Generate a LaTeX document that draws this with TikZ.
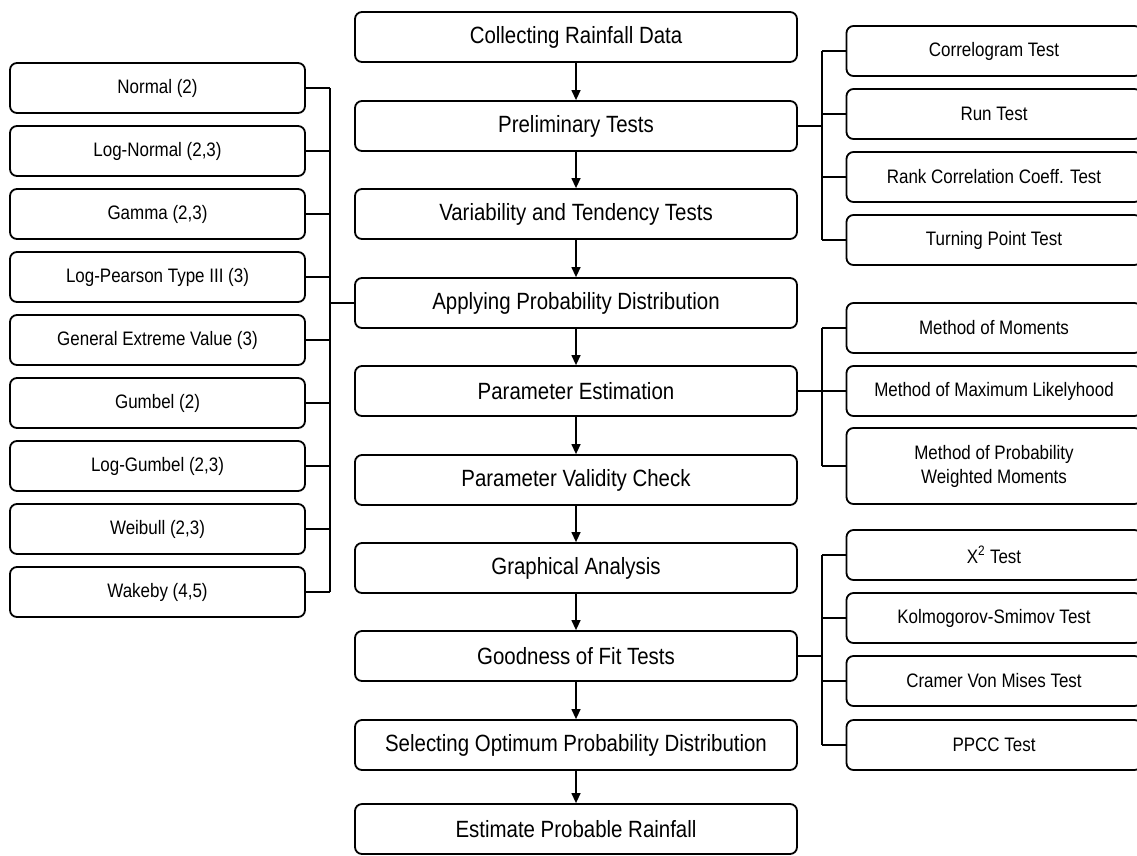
\documentclass[tikz,border=0pt]{standalone}
\usepackage{fontspec}
\setmainfont{Liberation Sans}[FakeStretch=0.87]
\usepackage{tikz}
\usetikzlibrary{arrows.meta, positioning, calc}
\tikzset{
    stage/.style={rectangle, rounded corners=7pt, draw=black, line width=1.8pt, fill=white, align=center, minimum width=442pt, minimum height=50pt, inner sep=0pt, font=\fontsize{23.5}{27}\selectfont},
    option/.style={rectangle, rounded corners=7pt, draw=black, line width=1.8pt, fill=white, align=center, minimum width=295pt, minimum height=50pt, inner sep=0pt, font=\fontsize{19.5}{24}\selectfont},
    link/.style={line width=1.3pt},
    arrow/.style={-{Triangle[length=10pt, width=9pt]}, line width=1.3pt}
}

\begin{document}
\begin{tikzpicture}[x=1pt, y=-1pt]
    \useasboundingbox (0,0) rectangle (1137,855);
    \clip (0,0) rectangle (1137,855);

    % Main procedure
    \node[stage] (collect)  at (576,37)  {Collecting Rainfall Data};
    \node[stage] (prelim)   at (576,126) {Preliminary Tests};
    \node[stage] (vari)     at (576,214) {Variability and Tendency Tests};
    \node[stage] (apply)    at (576,303) {Applying Probability Distribution};
    \node[stage] (estim)    at (576,391) {Parameter Estimation};
    \node[stage] (valid)    at (576,480) {Parameter Validity Check};
    \node[stage] (graph)    at (576,568) {Graphical Analysis};
    \node[stage] (gof)      at (576,656) {Goodness of Fit Tests};
    \node[stage] (select)   at (576,745) {Selecting Optimum Probability Distribution};
    \node[stage] (rainfall) at (576,829) {Estimate Probable Rainfall};

    \draw[arrow] (collect) -- (prelim);
    \draw[arrow] (prelim) -- (vari);
    \draw[arrow] (vari) -- (apply);
    \draw[arrow] (apply) -- (estim);
    \draw[arrow] (estim) -- (valid);
    \draw[arrow] (valid) -- (graph);
    \draw[arrow] (graph) -- (gof);
    \draw[arrow] (gof) -- (select);
    \draw[arrow] (select) -- (rainfall);

    % Candidate distributions
    \coordinate (lbus) at (330,0);
    \foreach \i/\txt in {1/{Normal (2)}, 2/{Log-Normal (2,3)}, 3/{Gamma (2,3)},
        4/{Log-Pearson Type III (3)}, 5/{General Extreme Value (3)}, 6/{Gumbel (2)},
        7/{Log-Gumbel (2,3)}, 8/{Weibull (2,3)}, 9/{Wakeby (4,5)}} {
        \node[option] (dist\i) at (157.5,{88+63*(\i-1)}) {\txt};
        \draw[link] (dist\i.east) -- (dist\i.east -| lbus);
    }
    \draw[link] (dist1.east -| lbus) -- (dist9.east -| lbus);
    \draw[link] (apply.west) -- (apply.west -| lbus);

    % Preliminary tests
    \coordinate (rbus) at (822,0);
    \node[option] (corr) at (994,51)  {Correlogram Test};
    \node[option] (run)  at (994,114) {Run Test};
    \node[option] (rank) at (994,177) {Rank Correlation Coeff. Test};
    \node[option] (turn) at (994,240) {Turning Point Test};
    \foreach \n in {corr, run, rank, turn}
        \draw[link] (\n.west) -- (\n.west -| rbus);
    \draw[link] (corr.west -| rbus) -- (turn.west -| rbus);
    \draw[link] (prelim.east) -- (prelim.east -| rbus);

    % Parameter estimation methods
    \node[option] (mom)  at (994,328) {Method of Moments};
    \node[option] (mml)  at (994,391) {Method of Maximum Likelyhood};
    \node[option, minimum height=76pt] (pwm) at (994,466) {Method of Probability\\ Weighted Moments};
    \foreach \n in {mom, mml, pwm}
        \draw[link] (\n.west) -- (\n.west -| rbus);
    \draw[link] (mom.west -| rbus) -- (pwm.west -| rbus);
    \draw[link] (estim.east) -- (estim.east -| rbus);

    % Goodness of fit tests
    \node[option] (chi)  at (994,555) {X\textsuperscript{2} Test};
    \node[option] (ks)   at (994,618) {Kolmogorov-Smimov Test};
    \node[option] (cvm)  at (994,681) {Cramer Von Mises Test};
    \node[option] (ppcc) at (994,745) {PPCC Test};
    \foreach \n in {chi, ks, cvm, ppcc}
        \draw[link] (\n.west) -- (\n.west -| rbus);
    \draw[link] (chi.west -| rbus) -- (ppcc.west -| rbus);
    \draw[link] (gof.east) -- (gof.east -| rbus);
\end{tikzpicture}
\end{document}
